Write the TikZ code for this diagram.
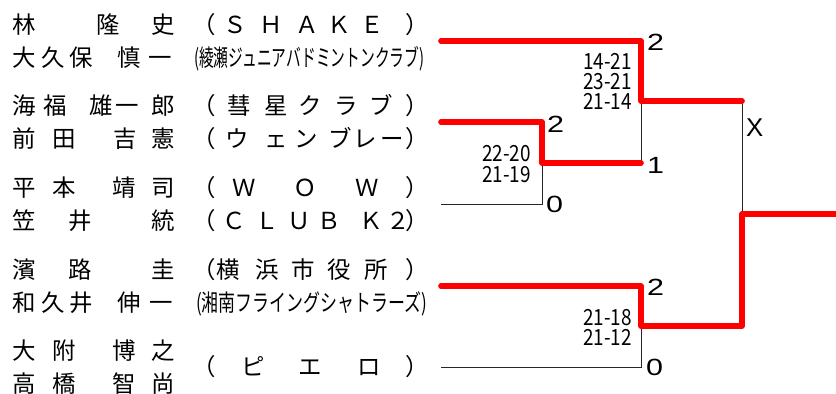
\documentclass[tikz,border=0pt]{standalone}
\usepackage{fontspec}
\usepackage{graphicx}
\setmainfont{Liberation Sans}
\newfontfamily\jpfont{Noto Sans CJK JP}
\usetikzlibrary{positioning}
\newcommand{\wdig}[1]{\scalebox{1.3}[1]{#1}}
\newcommand{\nscore}[1]{\scalebox{0.85}[1]{#1}}
\newcommand{\lpar}{\makebox[0.5em][r]{（}}
\newcommand{\rpar}{\makebox[0.5em][l]{）}}
\tikzset{
    nm/.style = {font=\jpfont\fontsize{20}{24}\selectfont, inner sep=0pt,
                 text height=17.6pt, text depth=2.4pt, anchor=center},
    sc/.style = {font=\jpfont\fontsize{19}{22}\selectfont, inner sep=0pt,
                 text height=14pt, text depth=0pt, anchor=base east},
    pts/.style = {font=\fontsize{20}{24}\selectfont, inner sep=0pt, anchor=base west},
    win/.style = {draw=red, line width=4.85pt, line cap=round, line join=round},
    lose/.style = {draw=black!85, line width=0.8pt}
}

\begin{document}
\begin{tikzpicture}[x=0.03cm, y=-0.03cm]
    \useasboundingbox (0,0) rectangle (836,394);
    % Giocatori
    \foreach \c/\x [count=\i] in {林/24, 隆/108, 史/163}
        \node[nm] (na\i) at (\x,24.5) {\c};
    \foreach \c/\x [count=\i] in {大/24, 久/53, 保/81, 慎/129, 一/160}
        \node[nm] (nb\i) at (\x,57.5) {\c};
    \foreach \c/\x [count=\i] in {海/24, 福/55, 雄/101, 一/127, 郎/163}
        \node[nm] (nc\i) at (\x,105.5) {\c};
    \foreach \c/\x [count=\i] in {前/24, 田/64, 吉/125, 憲/163}
        \node[nm] (nd\i) at (\x,138.5) {\c};
    \foreach \c/\x [count=\i] in {平/24, 本/64, 靖/124, 司/163}
        \node[nm] (ne\i) at (\x,187.5) {\c};
    \foreach \c/\x [count=\i] in {笠/24, 井/80, 統/163}
        \node[nm] (nf\i) at (\x,220.5) {\c};
    \foreach \c/\x [count=\i] in {濱/24, 路/80, 圭/163}
        \node[nm] (ng\i) at (\x,269.5) {\c};
    \foreach \c/\x [count=\i] in {和/24, 久/53, 井/81, 伸/129, 一/161}
        \node[nm] (nh\i) at (\x,302.5) {\c};
    \foreach \c/\x [count=\i] in {大/24, 附/64, 博/124, 之/163}
        \node[nm] (ni\i) at (\x,350.5) {\c};
    \foreach \c/\x [count=\i] in {高/24, 橋/64, 智/124, 尚/163}
        \node[nm] (nj\i) at (\x,383.5) {\c};
    % Squadre
    \foreach \y [count=\i] in {24.5, 105.5, 138.5, 187.5, 220.5, 269.5, 367} {
        \node[nm] (po\i) at (210.5,\y) {\lpar};
        \node[nm] (pc\i) at (411.5,\y) {\rpar};
    }
    \foreach \c/\x [count=\i] in {Ｓ/235, Ｈ/271, Ａ/307, Ｋ/339, Ｅ/372}
        \node[nm] (ca\i) at (\x,24.5) {\c};
    \node[nm, anchor=west] (cb) at (194,57.5)
        {\resizebox{6.9cm}{\height}{(綾瀬ジュニアバドミントンクラブ)}};
    \foreach \c/\x [count=\i] in {彗/239, 星/276, ク/310, ラ/346, ブ/381}
        \node[nm] (cc\i) at (\x,105.5) {\c};
    \foreach \c/\x [count=\i] in {ウ/237.5, ェ/276.5, ン/306, ブ/340, レ/365, ー/392.5}
        \node[nm] (cd\i) at (\x,138.5) {\c};
    \foreach \c/\x [count=\i] in {Ｗ/244, Ｏ/305, Ｗ/367}
        \node[nm] (ce\i) at (\x,187.5) {\c};
    \foreach \c/\x [count=\i] in {Ｃ/234, Ｌ/267, Ｕ/299, Ｂ/329, Ｋ/371, ２/398}
        \node[nm] (cf\i) at (\x,220.5) {\c};
    \foreach \c/\x [count=\i] in {横/228, 浜/267, 市/303, 役/339, 所/376}
        \node[nm] (cg\i) at (\x,269.5) {\c};
    \node[nm, anchor=west] (ch) at (196,302.5)
        {\resizebox{6.93cm}{\height}{(湘南フライングシャトラーズ)}};
    \foreach \c/\x [count=\i] in {ピ/253, エ/310, ロ/369}
        \node[nm] (ci\i) at (\x,367) {\c};
    % Tabellone
    \coordinate (p1) at (441,41);
    \coordinate (p2) at (441,122);
    \coordinate (p3) at (441,204);
    \coordinate (p4) at (441,286);
    \coordinate (p5) at (441,367);
    \coordinate (a) at (542,163);
    \coordinate (b) at (641,101);
    \coordinate (c) at (641,326);
    \coordinate (d) at (742,214);
    \coordinate (w) at (836,214);
    \draw[lose] (p3) -| (a);
    \draw[lose] (a -| b) -- (b);
    \draw[lose] (b -| d) -- (d);
    \draw[lose] (p5) -| (c);
    \draw[win] (p1) -| (b) -- (b -| d);
    \draw[win] (p2) -| (a) -- (a -| b);
    \draw[win] (p4) -| (c) -- (c -| d) -- (d) -- (w);
    % Punteggi
    \node[pts] (g1) at (647,51) {\wdig{2}};
    \node[pts] (g2) at (547,132) {\wdig{2}};
    \node[pts] (g3) at (647,173) {\wdig{1}};
    \node[pts] (g4) at (546,212) {\wdig{0}};
    \node[pts] (g5) at (647,295) {\wdig{2}};
    \node[pts] (g6) at (646,375) {\wdig{0}};
    \node[pts] (gx) at (746,137) {\scalebox{1.1}{X}};
    \node[sc] (s1) at (632,70) {\nscore{14-21}};
    \node[sc] (s2) at (632,90) {\nscore{23-21}};
    \node[sc] (s3) at (632,110) {\nscore{21-14}};
    \node[sc] (s4) at (531,161) {\nscore{22-20}};
    \node[sc] (s5) at (531,182) {\nscore{21-19}};
    \node[sc] (s6) at (632,325) {\nscore{21-18}};
    \node[sc] (s7) at (632,345) {\nscore{21-12}};
\end{tikzpicture}
\end{document}
